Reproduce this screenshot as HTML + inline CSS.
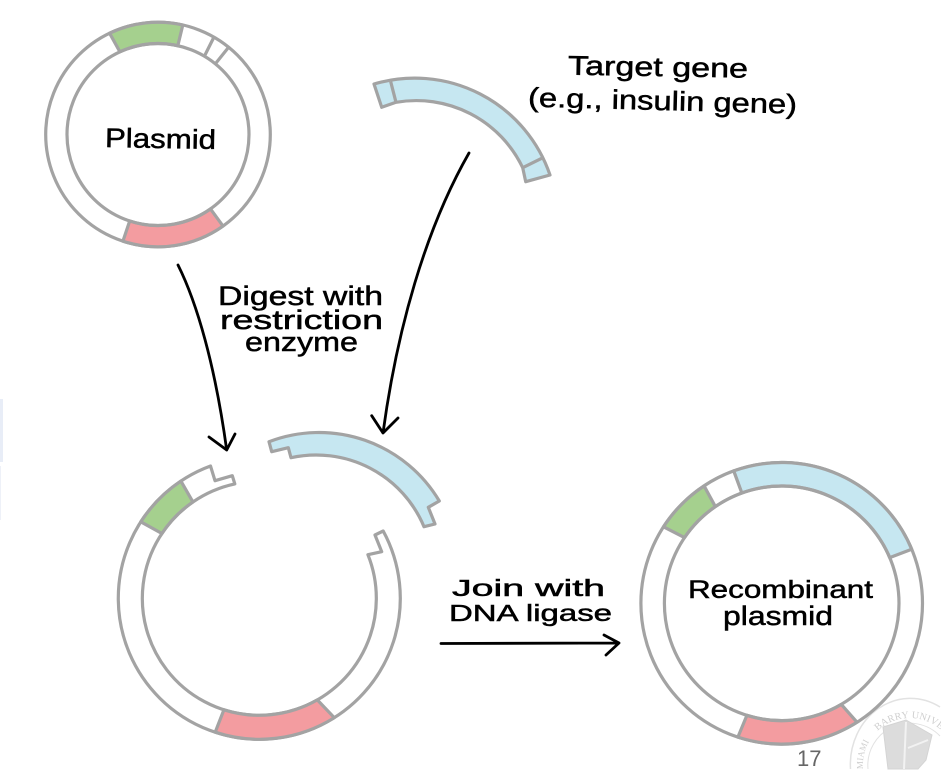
<!DOCTYPE html>
<html><head><meta charset="utf-8"><style>
html,body{margin:0;padding:0;background:#fff;width:941px;height:770px;overflow:hidden}
svg{display:block;position:absolute;left:0;top:0}
.g{stroke:#a3a3a3;stroke-width:3.2;stroke-linejoin:round}
.a{stroke:#000;stroke-width:2.800;fill:none;stroke-linecap:round;stroke-linejoin:round}
.t{font-family:"Liberation Sans",sans-serif;font-size:27px;fill:#000;stroke:#000;stroke-width:.5;text-anchor:start}
.n{position:absolute;left:797px;top:749px;height:20px;line-height:20px;font-family:"Liberation Sans",sans-serif;font-size:22px;color:#666;overflow:hidden}
</style></head><body>
<svg width="941" height="770" viewBox="0 0 941 770" xmlns="http://www.w3.org/2000/svg">
<rect x="0" y="399" width="3" height="63" fill="#e8edf7"/>
<rect x="0" y="466" width="1" height="54" fill="#eef1f8"/>

<!-- seal -->
<g fill="none" stroke="#e2e2e2">
<path d="M850.500 769A60 66 0 0 1 940 707" stroke-width="1.500"/>
<path d="M868 769A42 42 0 0 1 940 736" stroke-width="1"/>
<path d="M883 727L906 720L932 735L926 760L918 769L888 769Z" fill="#dcdcdc" stroke="#d4d4d4"/>
<path d="M906 722L904 769M908 748L928 740" stroke="#f2f2f2" stroke-width="2"/>
</g>
<path id="sealArc" d="M863 769A47 47 0 0 1 940 729" fill="none"/>
<text font-family="Liberation Serif,serif" font-size="9" fill="#cfcfcf"><textPath href="#sealArc">MIAMI</textPath></text>
<text font-family="Liberation Serif,serif" font-size="10" fill="#cfcfcf" letter-spacing=".2"><textPath href="#sealArc" startOffset="42">BARRY UNIVERSITY</textPath></text>

<!-- plasmid 1 -->
<circle cx="158" cy="134.500" r="112.300" fill="#fff" class="g"/>
<path d="M109.600 33.200A112.300 112.300 0 0 1 182.800 25L177.800 45.700A91 91 0 0 0 119.900 51.800Z" fill="#a5d08e" class="g"/>
<path d="M122.900 241.200A112.300 112.300 0 0 0 223 226.100L210.500 208.900A91 91 0 0 1 129.700 221Z" fill="#f39ca0" class="g"/>
<path d="M214 37L205 55M228 48L216 63" class="g" fill="none"/>
<circle cx="158" cy="134.500" r="91" fill="none" class="g"/>
<text class="t" x="105" y="148" textLength="111" lengthAdjust="spacingAndGlyphs" transform="rotate(1 160 140)">Plasmid</text>

<!-- target gene -->
<path d="M374 84A143 143 0 0 1 550 175L525.700 181.700L522.700 167.700A118 118 0 0 0 396 102.300L381.700 107.300Z" fill="#c6e7f1" class="g"/>
<path d="M390.700 81.700L396 102.300M541.700 158.300L522.700 167.700" class="g" fill="none"/>
<text class="t" x="568" y="76" textLength="180" lengthAdjust="spacingAndGlyphs" transform="rotate(1 650 70)">Target gene</text>
<text class="t" x="528" y="110" textLength="269" lengthAdjust="spacingAndGlyphs" transform="rotate(1.500 660 105)">(e.g., insulin gene)</text>

<!-- arrows -->
<path d="M178 265C197 303 215 365 226.700 450M209 437L226.700 450L235 434" class="a"/>
<path d="M469 153C425 230 397 330 383 433M371.700 415.700L383 433L398 418" class="a"/>
<path d="M441 643.500L619 643M604 635L619 643L606 655" class="a"/>

<text class="t" x="218" y="305" textLength="165" lengthAdjust="spacingAndGlyphs">Digest with</text>
<text class="t" x="220" y="329" textLength="163" lengthAdjust="spacingAndGlyphs">restriction</text>
<text class="t" x="245" y="351" textLength="113" lengthAdjust="spacingAndGlyphs">enzyme</text>
<text class="t" style="font-size:23px" x="452" y="596" textLength="153" lengthAdjust="spacingAndGlyphs">Join with</text>
<text class="t" style="font-size:23px" x="449" y="621" textLength="163" lengthAdjust="spacingAndGlyphs">DNA ligase</text>

<!-- open plasmid -->
<path d="M383.200 531L375 535L381.700 551.700L367.900 554.700A117 117 0 1 1 234.800 483.900L232.300 475.700L215 480.700L210.500 466A141 141 0 1 0 383.200 531Z" fill="#fff" class="g"/>
<path d="M180.900 481.100A141 141 0 0 0 140.800 521.800L161.900 533.500A117 117 0 0 1 192.900 501.900Z" fill="#a5d08e" class="g"/>
<path d="M215.200 732.200A141 141 0 0 0 334.300 717.700L317.300 699.900A117 117 0 0 1 223.900 709.800Z" fill="#f39ca0" class="g"/>
<path d="M269 441.700A140 140 0 0 1 439.300 501L428.300 507.300L435 524L424 526.700A117 117 0 0 0 291 457.700L288.300 447.700L271.700 451.700Z" fill="#c6e7f1" class="g"/>

<!-- recombinant -->
<circle cx="781.700" cy="603.300" r="140.800" fill="none" class="g"/>
<path d="M733.700 470.900A140.800 140.800 0 0 1 911.700 549.300L889.700 557.600A117.300 117.300 0 0 0 741.800 493Z" fill="#c6e7f1" class="g"/>
<path d="M704.100 485.900A140.800 140.800 0 0 0 663.500 526.800L684.500 537.600A117.300 117.300 0 0 1 715.400 506.600Z" fill="#a5d08e" class="g"/>
<path d="M704.100 485.900A140.800 140.800 0 0 1 733.700 470.900L741.800 493A117.300 117.300 0 0 0 715.400 506.600Z" fill="#fff" class="g"/>
<path d="M737.900 737.100A140.800 140.800 0 0 0 857 722.200L841.300 704.400A117.300 117.300 0 0 1 746.900 715.300Z" fill="#f39ca0" class="g"/>
<circle cx="781.700" cy="603.300" r="117.300" fill="none" class="g"/>
<text class="t" style="font-size:25px" x="688" y="598" textLength="185" lengthAdjust="spacingAndGlyphs">Recombinant</text>
<text class="t" x="723" y="625" textLength="110" lengthAdjust="spacingAndGlyphs">plasmid</text>
</svg>
<div class="n">17</div>
</body></html>
